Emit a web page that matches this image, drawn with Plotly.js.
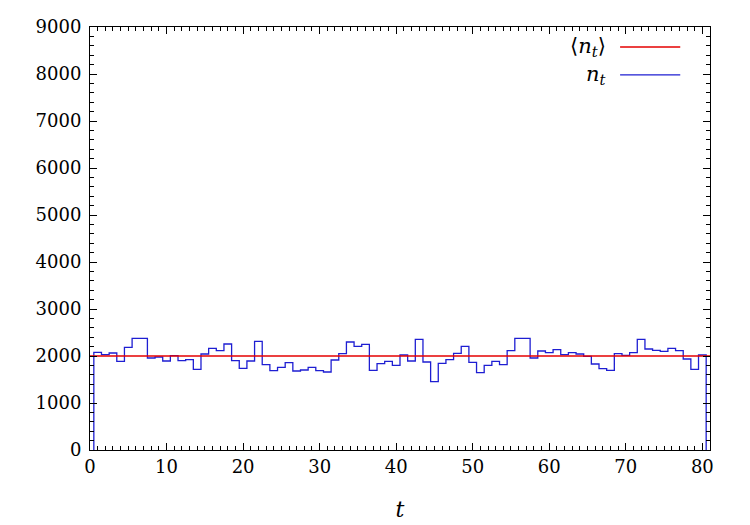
<!DOCTYPE html>
<html>
<head>
<meta charset="utf-8">
<script src="https://cdn.plot.ly/plotly-3.0.1.min.js"></script>
<style>html,body{margin:0;padding:0;background:#fff;}#chart{width:750px;height:525px;}</style>
</head>
<body>
<div id="chart"></div>
<script>
// time steps t = 1..80
const tValues = Array.from({length: 80}, (_, i) => i + 1);
// n_t (histogram steps)
const nValues = [
  2078, 2028, 2064, 1887, 2185, 2376, 2376, 1957, 1979, 1894,
  2007, 1900, 1921, 1717, 2043, 2164, 2113, 2255, 1900, 1738,
  1894, 2312, 1816, 1688, 1759, 1858, 1681, 1702, 1759, 1688,
  1660, 1915, 2050, 2298, 2206, 2248, 1695, 1837, 1887, 1801,
  2021, 1894, 2355, 1872, 1454, 1844, 1921, 2057, 2206, 1865,
  1646, 1801, 1887, 1816, 2113, 2376, 2376, 1957, 2106, 2071,
  2135, 2028, 2071, 2043, 1993, 1830, 1730, 1695, 2050, 2014,
  2071, 2355, 2149, 2121, 2099, 2164, 2113, 1936, 1717, 2021
];
const meanValue = 2000;
const xRange = [0, 81];
const yRange = [0, 9000];

// histeps: bin edges at t +/- 0.5, dropping to zero at both ends
const stepX = [tValues[0] - 0.5].concat(tValues.map(t => t - 0.5), [tValues[tValues.length - 1] + 0.5]);
const stepY = [0].concat(nValues, [0]);

const serif = 'DejaVu Serif';
const blue = 'rgb(30,30,210)';
const red = 'rgb(228,0,0)';

const traces = [
  {x: stepX, y: stepY, type: 'scatter', mode: 'lines', line: {shape: 'hv', color: blue, width: 1.3}, hoverinfo: 'skip'},
  {x: xRange, y: [meanValue, meanValue], type: 'scatter', mode: 'lines', line: {color: red, width: 1.5}, hoverinfo: 'skip'}
];

const axisCommon = {
  showline: true, linecolor: 'black', linewidth: 1, mirror: 'allticks',
  ticks: 'inside', ticklen: 7, tickwidth: 1, tickcolor: 'black',
  showgrid: false, zeroline: false,
  tickfont: {family: serif, size: 18, color: 'black'}
};

const layout = {
  width: 750, height: 525,
  margin: {l: 90, r: 40, t: 27, b: 75},
  paper_bgcolor: 'white', plot_bgcolor: 'white',
  font: {family: serif, color: 'black'},
  showlegend: false,
  xaxis: Object.assign({}, axisCommon, {
    range: xRange, tick0: 0, dtick: 10,
    minor: {dtick: 1, ticks: 'inside', ticklen: 4, tickcolor: 'black', showgrid: false},
    title: {text: '<i>t</i>', font: {family: serif, size: 22, color: 'black'}, standoff: 26}
  }),
  yaxis: Object.assign({}, axisCommon, {
    range: yRange, tick0: 0, dtick: 1000,
    minor: {dtick: 200, ticks: 'inside', ticklen: 4, tickcolor: 'black', showgrid: false},
    ticklabelstandoff: 4
  }),
  annotations: [
    {xref: 'paper', yref: 'paper', x: 0.835, y: 0.953, xanchor: 'right', yanchor: 'middle', showarrow: false,
     text: '⟨<i>n</i><sub><i>t</i></sub>⟩', font: {family: serif, size: 21, color: 'black'}},
    {xref: 'paper', yref: 'paper', x: 0.835, y: 0.887, xanchor: 'right', yanchor: 'middle', showarrow: false,
     text: '<i>n</i><sub><i>t</i></sub>', font: {family: serif, size: 21, color: 'black'}}
  ],
  shapes: [
    {type: 'line', xref: 'paper', yref: 'paper', x0: 0.855, x1: 0.952, y0: 0.953, y1: 0.953, line: {color: red, width: 1.5}},
    {type: 'line', xref: 'paper', yref: 'paper', x0: 0.855, x1: 0.952, y0: 0.887, y1: 0.887, line: {color: blue, width: 1.3}}
  ]
};

Plotly.newPlot('chart', traces, layout, {staticPlot: true, displayModeBar: false});
</script>
</body>
</html>
